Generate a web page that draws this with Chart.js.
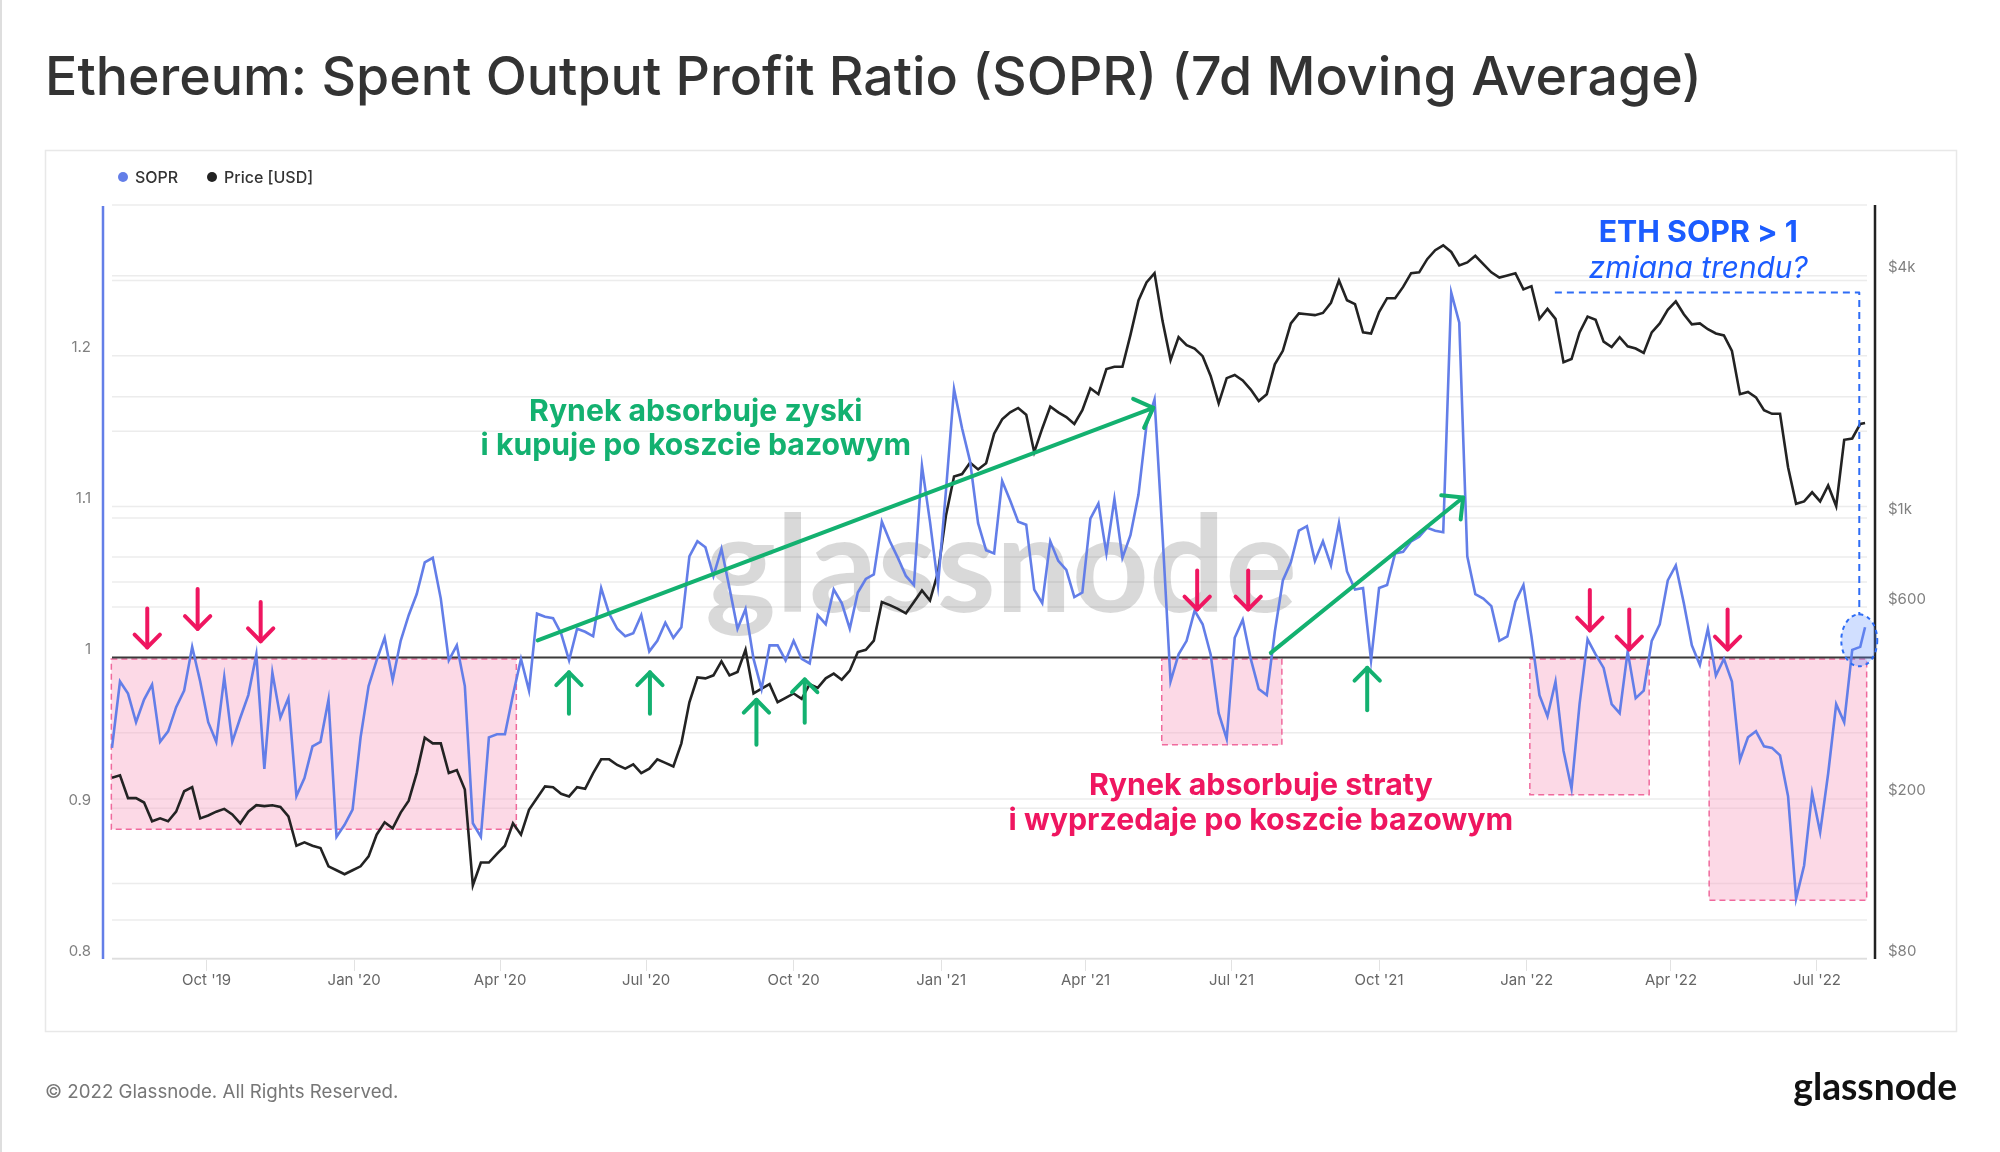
<!DOCTYPE html>
<html>
<head>
<meta charset="utf-8">
<title>Ethereum: SOPR (7d MA)</title>
<script src="https://cdn.jsdelivr.net/npm/chart.js@4.4.0/dist/chart.umd.min.js"></script>
<style>
  html, body { margin: 0; padding: 0; background: #fff; }
  canvas { display: block; }
</style>
</head>
<body>
<canvas id="soprChart" width="2000" height="1152" style="width:2000px;height:1152px"></canvas>
<script>
// 5-day samples
var dates = [
  '2019-08-03','2019-08-08','2019-08-13','2019-08-18','2019-08-23','2019-08-28',
  '2019-09-02','2019-09-07','2019-09-12','2019-09-17','2019-09-22','2019-09-27',
  '2019-10-02','2019-10-07','2019-10-12','2019-10-17','2019-10-22','2019-10-27',
  '2019-11-01','2019-11-06','2019-11-11','2019-11-16','2019-11-21','2019-11-26',
  '2019-12-01','2019-12-06','2019-12-11','2019-12-16','2019-12-21','2019-12-26','2019-12-31',
  '2020-01-05','2020-01-10','2020-01-15','2020-01-20','2020-01-25','2020-01-30',
  '2020-02-04','2020-02-09','2020-02-14','2020-02-19','2020-02-24','2020-02-29',
  '2020-03-05','2020-03-10','2020-03-15','2020-03-20','2020-03-25','2020-03-30',
  '2020-04-04','2020-04-09','2020-04-14','2020-04-19','2020-04-24','2020-04-29',
  '2020-05-04','2020-05-09','2020-05-14','2020-05-19','2020-05-24','2020-05-29',
  '2020-06-03','2020-06-08','2020-06-13','2020-06-18','2020-06-23','2020-06-28',
  '2020-07-03','2020-07-08','2020-07-13','2020-07-18','2020-07-23','2020-07-28',
  '2020-08-02','2020-08-07','2020-08-12','2020-08-17','2020-08-22','2020-08-27',
  '2020-09-01','2020-09-06','2020-09-11','2020-09-16','2020-09-21','2020-09-26',
  '2020-10-01','2020-10-06','2020-10-11','2020-10-16','2020-10-21','2020-10-26','2020-10-31',
  '2020-11-05','2020-11-10','2020-11-15','2020-11-20','2020-11-25','2020-11-30',
  '2020-12-05','2020-12-10','2020-12-15','2020-12-20','2020-12-25','2020-12-30',
  '2021-01-04','2021-01-09','2021-01-14','2021-01-19','2021-01-24','2021-01-29',
  '2021-02-03','2021-02-08','2021-02-13','2021-02-18','2021-02-23','2021-02-28',
  '2021-03-05','2021-03-10','2021-03-15','2021-03-20','2021-03-25','2021-03-30',
  '2021-04-04','2021-04-09','2021-04-14','2021-04-19','2021-04-24','2021-04-29',
  '2021-05-04','2021-05-09','2021-05-14','2021-05-19','2021-05-24','2021-05-29',
  '2021-06-03','2021-06-08','2021-06-13','2021-06-18','2021-06-23','2021-06-28',
  '2021-07-03','2021-07-08','2021-07-13','2021-07-18','2021-07-23','2021-07-28',
  '2021-08-02','2021-08-07','2021-08-12','2021-08-17','2021-08-22','2021-08-27',
  '2021-09-01','2021-09-06','2021-09-11','2021-09-16','2021-09-21','2021-09-26',
  '2021-10-01','2021-10-06','2021-10-11','2021-10-16','2021-10-21','2021-10-26','2021-10-31',
  '2021-11-05','2021-11-10','2021-11-15','2021-11-20','2021-11-25','2021-11-30',
  '2021-12-05','2021-12-10','2021-12-15','2021-12-20','2021-12-25','2021-12-30',
  '2022-01-04','2022-01-09','2022-01-14','2022-01-19','2022-01-24','2022-01-29',
  '2022-02-03','2022-02-08','2022-02-13','2022-02-18','2022-02-23','2022-02-28',
  '2022-03-05','2022-03-10','2022-03-15','2022-03-20','2022-03-25','2022-03-30',
  '2022-04-04','2022-04-09','2022-04-14','2022-04-19','2022-04-24','2022-04-29',
  '2022-05-04','2022-05-09','2022-05-14','2022-05-19','2022-05-24','2022-05-29',
  '2022-06-03','2022-06-08','2022-06-13','2022-06-18','2022-06-23','2022-06-28',
  '2022-07-03','2022-07-08','2022-07-13','2022-07-18','2022-07-23','2022-07-28','2022-07-31'
];

var soprValues = [
  0.940,0.984,0.976,0.957,0.972,0.982,0.944,0.951,0.967,0.978,
  1.007,0.984,0.957,0.944,0.987,0.944,0.960,0.975,1.002,0.926,
  0.990,0.960,0.973,0.908,0.920,0.941,0.944,0.972,0.881,0.889,
  0.899,0.947,0.981,0.998,1.013,0.985,1.011,1.028,1.042,1.063,
  1.066,1.039,0.998,1.008,0.981,0.890,0.881,0.947,0.949,0.949,
  0.975,0.999,0.978,1.029,1.027,1.026,1.016,0.998,1.019,1.017,
  1.014,1.046,1.029,1.019,1.014,1.016,1.028,1.004,1.011,1.023,
  1.013,1.020,1.067,1.077,1.073,1.054,1.072,1.046,1.019,1.032,
  0.999,0.979,1.008,1.008,0.998,1.011,0.999,0.996,1.028,1.022,
  1.045,1.036,1.019,1.043,1.052,1.055,1.090,1.077,1.066,1.054,
  1.048,1.127,1.090,1.048,1.111,1.178,1.152,1.130,1.089,1.071,
  1.069,1.117,1.104,1.090,1.088,1.045,1.036,1.077,1.064,1.058,
  1.040,1.043,1.092,1.102,1.069,1.105,1.066,1.081,1.108,1.154,
  1.171,1.081,0.984,1.002,1.011,1.031,1.022,1.002,0.963,0.946,
  1.013,1.025,0.999,0.979,0.975,1.017,1.051,1.063,1.084,1.087,
  1.064,1.077,1.061,1.089,1.057,1.045,1.046,0.998,1.046,1.048,
  1.069,1.070,1.077,1.080,1.086,1.084,1.083,1.242,1.222,1.067,
  1.042,1.039,1.034,1.011,1.014,1.037,1.048,1.014,0.975,0.961,
  0.984,0.938,0.913,0.969,1.012,1.002,0.993,0.969,0.963,1.004,
  0.973,0.978,1.011,1.022,1.051,1.061,1.036,1.008,0.995,1.019,
  0.988,0.999,0.984,0.932,0.947,0.951,0.941,0.940,0.935,0.908,
  0.840,0.862,0.910,0.884,0.923,0.969,0.957,1.005,1.007,1.020
];

var priceValues = [
  226,229,201,201,196,176,179,176,186,209,
  214,179,182,186,189,183,174,186,193,192,
  193,191,181,153,156,153,151,136,133,130,
  133,136,144,163,175,169,185,198,232,284,
  275,275,232,236,211,122,139,139,146,153,
  174,163,188,201,215,214,206,203,214,212,
  232,251,251,243,238,244,232,238,251,246,
  241,275,348,401,399,406,440,406,414,470,
  366,376,386,348,357,366,355,386,378,399,
  410,396,417,464,470,495,618,607,594,579,
  618,660,623,732,1016,1268,1285,1372,1320,1368,
  1620,1758,1830,1877,1806,1457,1669,1892,1830,1782,
  1713,1853,2101,2031,2345,2377,2377,2853,3475,3853,
  4060,3086,2469,2815,2688,2637,2525,2255,1927,2226,
  2267,2198,2085,1952,2031,2409,2603,3045,3226,3210,
  3193,3234,3428,3894,3477,3400,2893,2875,3250,3519,
  3519,3754,4060,4080,4400,4631,4763,4585,4244,4318,
  4486,4275,4080,3959,4007,4060,3700,3770,3127,3310,
  3127,2440,2484,2893,3167,3110,2744,2660,2815,2672,
  2637,2571,2893,3045,3293,3454,3210,3030,3045,2946,
  2875,2844,2602,2031,2057,1994,1853,1815,1815,1337,
  1084,1099,1158,1099,1204,1070,1564,1576,1713,1722
];

var xTickDates = ['2019-10-01','2020-01-01','2020-04-01','2020-07-01','2020-10-01','2021-01-01',
                  '2021-04-01','2021-07-01','2021-10-01','2022-01-01','2022-04-01','2022-07-01'];
var xTickLabels = ["Oct '19","Jan '20","Apr '20","Jul '20","Oct '20","Jan '21",
                   "Apr '21","Jul '21","Oct '21","Jan '22","Apr '22","Jul '22"];
var soprGrid = [0.8, 0.85, 0.9, 0.95, 1, 1.05, 1.1, 1.15, 1.2, 1.25, 1.3];
var soprTickText = { 80: '0.8', 90: '0.9', 100: '1', 110: '1.1', 120: '1.2' };
var priceGrid = [80, 100, 200, 600, 800, 1000, 2000, 4000];
var priceTickText = { 80: '$80', 200: '$200', 600: '$600', 1000: '$1k', 4000: '$4k' };

// annotations: days since 1 Oct 2019, SOPR units
var lossBoxes = [[-59.4, 193.1, 0.886], [595.5, 670.4, 0.942], [825.0, 899.4, 0.909], [936.8, 1035.0, 0.839]];
var redArrows = [[-37.0, 1.0325, 1.0066], [-5.6, 1.0453, 1.0189], [33.7, 1.0368, 1.0107],
                 [617.6, 1.0577, 1.0318], [649.4, 1.0577, 1.0318],
                 [862.4, 1.0447, 1.0179], [887.0, 1.0317, 1.0053], [948.3, 1.0317, 1.0053]];
var greenArrows = [[225.9, 0.9627, 0.9901], [276.4, 0.9627, 0.9901], [342.8, 0.9421, 0.9719],
                   [372.9, 0.9566, 0.9854], [723.6, 0.9649, 0.9931]];
var trendLines = [[206.4, 1.0113, 590.2, 1.1655], [663.5, 1.003, 783.4, 1.106]];

var SOPR_BLUE = '#637ee8';
var GREEN = '#13b170';
var RED = '#ef1660';
var BLUE = '#1b5cff';

var baseDay = Date.UTC(2019, 9, 1);
function dayNum(s) {
  var p = s.split('-');
  return (Date.UTC(+p[0], +p[1] - 1, +p[2]) - baseDay) / 86400000;
}

var firstDay = dayNum(dates[0]);
var lastDay = dayNum(dates[dates.length - 1]);
var xTickDays = xTickDates.map(dayNum);

var soprPoints = dates.map(function (d, i) { return { x: dayNum(d), y: soprValues[i] }; });
var pricePoints = dates.map(function (d, i) { return { x: dayNum(d), y: priceValues[i] }; });

function fittedFont(c, text, width, style) {
  c.font = style.replace('{}', '100');
  var size = 100 * width / c.measureText(text).width;
  return style.replace('{}', size.toFixed(1));
}

function drawArrow(c, x1, y1, x2, y2, head) {
  var a = Math.atan2(y2 - y1, x2 - x1);
  c.beginPath();
  c.moveTo(x1, y1);
  c.lineTo(x2, y2);
  c.stroke();
  c.beginPath();
  c.moveTo(x2 - head * Math.cos(a - 0.78), y2 - head * Math.sin(a - 0.78));
  c.lineTo(x2, y2);
  c.lineTo(x2 - head * Math.cos(a + 0.78), y2 - head * Math.sin(a + 0.78));
  c.stroke();
}

var overlay = {
  id: 'overlay',
  beforeDraw: function (chart) {
    var c = chart.ctx;
    c.save();
    c.fillStyle = '#fff';
    c.fillRect(0, 0, chart.width, chart.height);
    // page edge and chart frame
    c.strokeStyle = '#dedede';
    c.lineWidth = 2;
    c.beginPath(); c.moveTo(1, 0); c.lineTo(1, chart.height); c.stroke();
    c.strokeStyle = '#e8e8e8';
    c.lineWidth = 1.5;
    c.strokeRect(45.5, 150.5, 1911, 881);
    c.restore();
  },
  beforeDatasetsDraw: function (chart) {
    var c = chart.ctx, area = chart.chartArea;
    var x = chart.scales.x, ys = chart.scales.ySopr, yp = chart.scales.yPrice;
    var gx0 = x.getPixelForValue(firstDay), gx1 = area.right - 8;
    c.save();
    c.lineWidth = 1.5;
    c.strokeStyle = '#ececec';
    function hline(y) { c.beginPath(); c.moveTo(gx0, y); c.lineTo(gx1, y); c.stroke(); }
    soprGrid.forEach(function (v) { hline(ys.getPixelForValue(v)); });
    priceGrid.forEach(function (v) { hline(yp.getPixelForValue(v)); });
    c.strokeStyle = '#dedede';
    hline(area.bottom - 0.5);

    // watermark
    c.font = fittedFont(c, 'glassnode', 592, '700 {}px Lato');
    c.fillStyle = 'rgba(0,0,0,0.15)';
    c.textAlign = 'center';
    c.textBaseline = 'alphabetic';
    c.fillText('glassnode', (area.left + area.right) / 2 + 12, (area.top + area.bottom) / 2 + 30);

    // loss zones
    lossBoxes.forEach(function (b) {
      var x0 = x.getPixelForValue(b[0]), x1 = x.getPixelForValue(b[1]);
      var y0 = ys.getPixelForValue(0.999), y1 = ys.getPixelForValue(b[2]);
      c.fillStyle = 'rgba(249,170,200,0.45)';
      c.fillRect(x0, y0, x1 - x0, y1 - y0);
      c.setLineDash([6, 4]);
      c.strokeStyle = '#f06a9d';
      c.lineWidth = 1.5;
      c.strokeRect(x0, y0, x1 - x0, y1 - y0);
      c.setLineDash([]);
    });

    // SOPR = 1
    c.strokeStyle = '#3a3a3a';
    c.lineWidth = 2;
    c.beginPath();
    c.moveTo(gx0, ys.getPixelForValue(1));
    c.lineTo(area.right, ys.getPixelForValue(1));
    c.stroke();

    // axis lines
    c.strokeStyle = SOPR_BLUE;
    c.lineWidth = 2.5;
    c.beginPath(); c.moveTo(area.left, area.top + 1); c.lineTo(area.left, area.bottom); c.stroke();
    c.strokeStyle = '#222';
    c.lineWidth = 2.5;
    c.beginPath(); c.moveTo(area.right, area.top); c.lineTo(area.right, area.bottom); c.stroke();
    c.restore();
  },
  afterDatasetsDraw: function (chart) {
    var c = chart.ctx;
    var x = chart.scales.x, ys = chart.scales.ySopr;
    c.save();
    c.lineCap = 'round';
    c.lineJoin = 'round';
    c.lineWidth = 4;

    c.strokeStyle = RED;
    redArrows.forEach(function (a) {
      var px = x.getPixelForValue(a[0]);
      drawArrow(c, px, ys.getPixelForValue(a[1]), px, ys.getPixelForValue(a[2]), 18);
    });
    c.strokeStyle = GREEN;
    greenArrows.forEach(function (a) {
      var px = x.getPixelForValue(a[0]);
      drawArrow(c, px, ys.getPixelForValue(a[1]), px, ys.getPixelForValue(a[2]), 18);
    });
    trendLines.forEach(function (t) {
      drawArrow(c, x.getPixelForValue(t[0]), ys.getPixelForValue(t[1]),
                x.getPixelForValue(t[2]), ys.getPixelForValue(t[3]), 22);
    });

    // blue callout
    var bx0 = x.getPixelForValue(840.6), bx1 = x.getPixelForValue(1030.4);
    var by0 = ys.getPixelForValue(1.242), by1 = ys.getPixelForValue(1.028);
    c.lineCap = 'butt';
    c.strokeStyle = '#2e6cf5';
    c.lineWidth = 2;
    c.setLineDash([7, 5]);
    c.beginPath(); c.moveTo(bx0, by0); c.lineTo(bx1, by0); c.lineTo(bx1, by1); c.stroke();
    c.setLineDash([4, 4]);
    c.beginPath();
    c.ellipse(bx1, ys.getPixelForValue(1.0113), 18, 26, 0, 0, Math.PI * 2);
    c.fillStyle = 'rgba(90,140,255,0.28)';
    c.fill();
    c.stroke();
    c.setLineDash([]);

    // annotation text
    c.textAlign = 'center';
    c.textBaseline = 'alphabetic';
    var gx = x.getPixelForValue(305);
    c.fillStyle = GREEN;
    c.font = fittedFont(c, 'i kupuje po koszcie bazowym', 430, '700 {}px Inter');
    c.fillText('Rynek absorbuje zyski', gx, ys.getPixelForValue(1.157));
    c.fillText('i kupuje po koszcie bazowym', gx, ys.getPixelForValue(1.134));

    var rx = x.getPixelForValue(657.3);
    c.fillStyle = RED;
    c.font = fittedFont(c, 'i wyprzedaje po koszcie bazowym', 504, '700 {}px Inter');
    c.fillText('Rynek absorbuje straty', rx, ys.getPixelForValue(0.9086));
    c.fillText('i wyprzedaje po koszcie bazowym', rx, ys.getPixelForValue(0.8854));

    var tx = x.getPixelForValue(930);
    c.fillStyle = BLUE;
    c.font = fittedFont(c, 'ETH SOPR > 1', 199, '700 {}px Inter');
    c.fillText('ETH SOPR > 1', tx, ys.getPixelForValue(1.2755));
    c.font = fittedFont(c, 'zmiana trendu?', 219, 'italic 400 {}px Inter');
    c.fillText('zmiana trendu?', tx, ys.getPixelForValue(1.2517));
    c.restore();
  },
  afterDraw: function (chart) {
    var c = chart.ctx;
    c.save();
    c.textAlign = 'left';
    c.textBaseline = 'alphabetic';
    var title = 'Ethereum: Spent Output Profit Ratio (SOPR) (7d Moving Average)';
    c.fillStyle = '#333';
    c.font = fittedFont(c, title, 1657, '500 {}px Inter');
    c.fillText(title, 45, 95);

    // legend
    c.textBaseline = 'middle';
    c.font = '500 16px Inter';
    c.fillStyle = SOPR_BLUE;
    c.beginPath(); c.arc(123, 177, 5, 0, Math.PI * 2); c.fill();
    c.fillStyle = '#222';
    c.beginPath(); c.arc(212, 177, 5, 0, Math.PI * 2); c.fill();
    c.fillStyle = '#333';
    c.fillText('SOPR', 135, 178);
    c.fillText('Price [USD]', 224, 178);

    // footer
    c.textBaseline = 'alphabetic';
    c.fillStyle = '#777';
    c.font = fittedFont(c, '\u00a9 2022 Glassnode. All Rights Reserved.', 354, '400 {}px Inter');
    c.fillText('\u00a9 2022 Glassnode. All Rights Reserved.', 45, 1098);
    c.textAlign = 'right';
    c.fillStyle = '#111';
    c.font = fittedFont(c, 'glassnode', 164, '700 {}px Lato');
    c.fillText('glassnode', 1957, 1100);
    c.restore();
  }
};

Chart.defaults.font.family = 'Inter';

new Chart(document.getElementById('soprChart').getContext('2d'), {
  type: 'line',
  data: {
    datasets: [{
      label: 'SOPR',
      data: soprPoints,
      yAxisID: 'ySopr',
      borderColor: SOPR_BLUE,
      borderWidth: 2.6,
      pointRadius: 0,
      tension: 0
    }, {
      label: 'Price [USD]',
      data: pricePoints,
      yAxisID: 'yPrice',
      borderColor: '#232323',
      borderWidth: 2.6,
      pointRadius: 0,
      tension: 0
    }]
  },
  options: {
    responsive: false,
    animation: false,
    devicePixelRatio: 1,
    layout: { padding: { top: 205, left: 0, right: 0, bottom: 0 } },
    plugins: { legend: { display: false }, tooltip: { enabled: false } },
    scales: {
      x: {
        type: 'linear',
        min: firstDay - 5.6,
        max: lastDay + 6.2,
        afterFit: function (scale) { scale.height = 193; },
        afterBuildTicks: function (scale) {
          scale.ticks = xTickDays.map(function (v) { return { value: v }; });
        },
        grid: { display: true, drawOnChartArea: false, drawTicks: true, tickLength: 12, color: '#e2e2e2' },
        border: { display: false },
        ticks: {
          autoSkip: false,
          maxRotation: 0,
          padding: 0,
          color: '#666',
          font: { size: 15 },
          callback: function (value, index) { return xTickLabels[index]; }
        }
      },
      ySopr: {
        type: 'linear',
        position: 'left',
        min: 0.8,
        max: 1.3,
        afterFit: function (scale) { scale.width = 103; },
        afterBuildTicks: function (scale) {
          scale.ticks = soprGrid.map(function (v) { return { value: v }; });
        },
        grid: { display: false, drawTicks: false },
        border: { display: false },
        ticks: {
          autoSkip: false,
          padding: 12,
          labelOffset: -8,
          color: '#808080',
          font: { size: 15 },
          callback: function (value) { return soprTickText[Math.round(value * 100)] || ''; }
        }
      },
      yPrice: {
        type: 'logarithmic',
        position: 'right',
        min: 80,
        max: 6000,
        afterFit: function (scale) { scale.width = 125; },
        afterBuildTicks: function (scale) {
          scale.ticks = priceGrid.map(function (v) { return { value: v }; });
        },
        grid: { display: false, drawTicks: false },
        border: { display: false },
        ticks: {
          autoSkip: false,
          padding: 13,
          labelOffset: -8,
          color: '#808080',
          font: { size: 15 },
          callback: function (value) { return priceTickText[value] || ''; }
        }
      }
    }
  },
  plugins: [overlay]
});
</script>
</body>
</html>
